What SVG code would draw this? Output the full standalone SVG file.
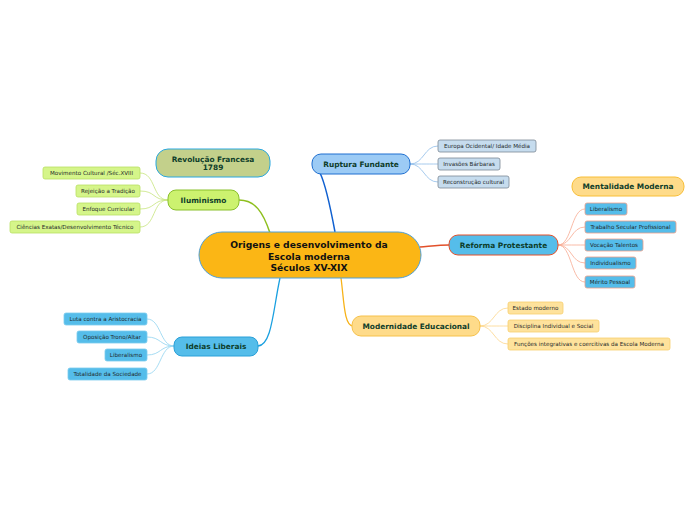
<svg xmlns="http://www.w3.org/2000/svg" width="696" height="520" viewBox="0 0 696 520">
<style>
text{font-family:"DejaVu Sans","Liberation Sans",sans-serif;text-anchor:middle;dominant-baseline:central}
.main{font-size:7.4px;font-weight:bold;fill:#0e3d2a}
.leaf{font-size:5.6px;fill:#1f2a2a}
.center{font-size:9.2px;font-weight:bold;fill:#111}
.c path{fill:none}
</style>
<rect width="696" height="520" fill="#ffffff"/>
<g class="c" id="connectors">
<path d="M270,233 C263,212 255,200 239,200" stroke="#8ebf1e" stroke-width="1.5"/>
<path d="M335,232 C330,205 326,185 320,173" stroke="#1060d0" stroke-width="1.5"/>
<path d="M420,247 C432,246 440,245 449,245" stroke="#e2502a" stroke-width="1.5"/>
<path d="M341,278 C344,300 344,326 353,326" stroke="#f7b218" stroke-width="1.3"/>
<path d="M280,278 C273,310 272,345 258,346" stroke="#1aa0e0" stroke-width="1.3"/>
<g stroke="#c6e47c" stroke-width="0.8">
<path d="M168,200 C152,200 156,173 140,173"/>
<path d="M168,200 C152,200 156,191 140,191"/>
<path d="M168,200 C152,200 156,209 140,209"/>
<path d="M168,200 C152,200 156,227 140,227"/>
</g>
<g stroke="#8fbce8" stroke-width="0.8">
<path d="M410,164 C424,164 424,146 438,146"/>
<path d="M410,164 C424,164 424,164 438,164"/>
<path d="M410,164 C424,164 424,182 438,182"/>
</g>
<g stroke="#f7a990" stroke-width="0.8">
<path d="M558,245 C572,245 571,209 585,209"/>
<path d="M558,245 C572,245 571,227 585,227"/>
<path d="M558,245 C572,245 571,245 585,245"/>
<path d="M558,245 C572,245 571,263 585,263"/>
<path d="M558,245 C572,245 571,282 585,282"/>
</g>
<g stroke="#8fd3f0" stroke-width="0.8">
<path d="M174,346 C160,346 161,319 147,319"/>
<path d="M174,346 C160,346 161,337 147,337"/>
<path d="M174,346 C160,346 161,355 147,355"/>
<path d="M174,346 C160,346 161,374 147,374"/>
</g>
<g stroke="#fcd58a" stroke-width="0.8">
<path d="M480,326 C494,326 494,308 508,308"/>
<path d="M480,326 C494,326 494,326 508,326"/>
<path d="M480,326 C494,326 494,344 508,344"/>
</g>
</g>
<g id="center">
<rect x="199" y="232" width="222" height="46" rx="23" fill="#fbb615" stroke="#4f9fd6" stroke-width="1"/>
<text class="center" x="309" y="244">Origens e desenvolvimento da</text>
<text class="center" x="309" y="256">Escola moderna</text>
<text class="center" x="309" y="267.5">Séculos XV-XIX</text>
</g>
<g id="revolucao">
<rect x="156" y="149" width="114" height="28" rx="12" fill="#c3d08b" stroke="#29a8e0" stroke-width="1"/>
<text class="main" x="213" y="159">Revolução Francesa</text>
<text class="main" x="213" y="167.5">1789</text>
</g>
<g id="iluminismo">
<rect x="168" y="190" width="71" height="20" rx="8" fill="#ccf26f" stroke="#8ac02d" stroke-width="1"/>
<text class="main" x="203.5" y="200.5">Iluminismo</text>
</g>
<g id="il1"><rect x="43" y="167" width="97" height="12" rx="2" fill="#d5f58a" stroke="#b9e063" stroke-width="0.8"/><text class="leaf" x="91.5" y="173.3">Movimento Cultural /Séc.XVIII</text></g>
<g id="il2"><rect x="76" y="185" width="64" height="12" rx="2" fill="#d5f58a" stroke="#b9e063" stroke-width="0.8"/><text class="leaf" x="108" y="191.3">Rejeição a Tradição</text></g>
<g id="il3"><rect x="77" y="203" width="63" height="12" rx="2" fill="#d5f58a" stroke="#b9e063" stroke-width="0.8"/><text class="leaf" x="108.5" y="209.3">Enfoque Curricular</text></g>
<g id="il4"><rect x="10" y="221" width="130" height="12" rx="2" fill="#d5f58a" stroke="#b9e063" stroke-width="0.8"/><text class="leaf" x="75" y="227.3">Ciências Exatas/Desenvolvimento Técnico</text></g>
<g id="ruptura">
<rect x="312" y="154" width="98" height="20" rx="9" fill="#9ccbf5" stroke="#1f6fd0" stroke-width="1"/>
<text class="main" x="361" y="164.5">Ruptura Fundante</text>
</g>
<g id="ru1"><rect x="438" y="140" width="98" height="12" rx="2" fill="#c6dcee" stroke="#7b8894" stroke-width="0.8"/><text class="leaf" x="487" y="146.3">Europa Ocidental/ Idade Média</text></g>
<g id="ru2"><rect x="438" y="158" width="62" height="12" rx="2" fill="#c6dcee" stroke="#7b8894" stroke-width="0.8"/><text class="leaf" x="469" y="164.3">Invasões Bárbaras</text></g>
<g id="ru3"><rect x="438" y="176" width="71" height="12" rx="2" fill="#c6dcee" stroke="#7b8894" stroke-width="0.8"/><text class="leaf" x="473.5" y="182.3">Reconstrução cultural</text></g>
<g id="mentalidade">
<rect x="572" y="177" width="112" height="19" rx="9" fill="#fedb8a" stroke="#f8be36" stroke-width="1"/>
<text class="main" x="628" y="186.8">Mentalidade Moderna</text>
</g>
<g id="reforma">
<rect x="449" y="235" width="109" height="20" rx="9" fill="#55bdea" stroke="#e2502a" stroke-width="1"/>
<text class="main" x="503.5" y="245.5">Reforma Protestante</text>
</g>
<g id="re1"><rect x="585" y="203" width="42" height="12" rx="2" fill="#55bdea" stroke="#f0a088" stroke-width="0.8"/><text class="leaf" x="606" y="209.3">Liberalismo</text></g>
<g id="re2"><rect x="585" y="221" width="91" height="12" rx="2" fill="#55bdea" stroke="#f0a088" stroke-width="0.8"/><text class="leaf" x="630.5" y="227.3">Trabalho Secular Profissional</text></g>
<g id="re3"><rect x="585" y="239" width="58" height="12" rx="2" fill="#55bdea" stroke="#f0a088" stroke-width="0.8"/><text class="leaf" x="614" y="245.3">Vocação Talentos</text></g>
<g id="re4"><rect x="585" y="257" width="51" height="12" rx="2" fill="#55bdea" stroke="#f0a088" stroke-width="0.8"/><text class="leaf" x="610.5" y="263.3">Individualismo</text></g>
<g id="re5"><rect x="585" y="276" width="50" height="12" rx="2" fill="#55bdea" stroke="#f0a088" stroke-width="0.8"/><text class="leaf" x="610" y="282.3">Mérito Pessoal</text></g>
<g id="ideias">
<rect x="174" y="337" width="84" height="19" rx="8" fill="#55bdea" stroke="#2aa0d8" stroke-width="1"/>
<text class="main" x="216" y="346.8">Ideias Liberais</text>
</g>
<g id="id1"><rect x="64" y="313" width="83" height="12" rx="2" fill="#55bdea" stroke="#7ccbed" stroke-width="0.8"/><text class="leaf" x="105.5" y="319.3">Luta contra a Aristocracia</text></g>
<g id="id2"><rect x="77" y="331" width="70" height="12" rx="2" fill="#55bdea" stroke="#7ccbed" stroke-width="0.8"/><text class="leaf" x="112" y="337.3">Oposição Trono/Altar</text></g>
<g id="id3"><rect x="105" y="349" width="42" height="12" rx="2" fill="#55bdea" stroke="#7ccbed" stroke-width="0.8"/><text class="leaf" x="126" y="355.3">Liberalismo</text></g>
<g id="id4"><rect x="68" y="368" width="79" height="12" rx="2" fill="#55bdea" stroke="#7ccbed" stroke-width="0.8"/><text class="leaf" x="107.5" y="374.3">Totalidade da Sociedade</text></g>
<g id="modernidade">
<rect x="352" y="316" width="128" height="20" rx="9" fill="#fedb8a" stroke="#f6c14a" stroke-width="1"/>
<text class="main" x="416" y="326.5">Modernidade Educacional</text>
</g>
<g id="mo1"><rect x="508" y="302" width="55" height="12" rx="2" fill="#fee29c" stroke="#f8cf6f" stroke-width="0.8"/><text class="leaf" x="535.5" y="308.3">Estado moderno</text></g>
<g id="mo2"><rect x="508" y="320" width="91" height="12" rx="2" fill="#fee29c" stroke="#f8cf6f" stroke-width="0.8"/><text class="leaf" x="553.5" y="326.3">Disciplina Individual e Social</text></g>
<g id="mo3"><rect x="508" y="338" width="162" height="12" rx="2" fill="#fee29c" stroke="#f8cf6f" stroke-width="0.8"/><text class="leaf" x="589" y="344.3">Funções integrativas e coercitivas da Escola Moderna</text></g>
</svg>
